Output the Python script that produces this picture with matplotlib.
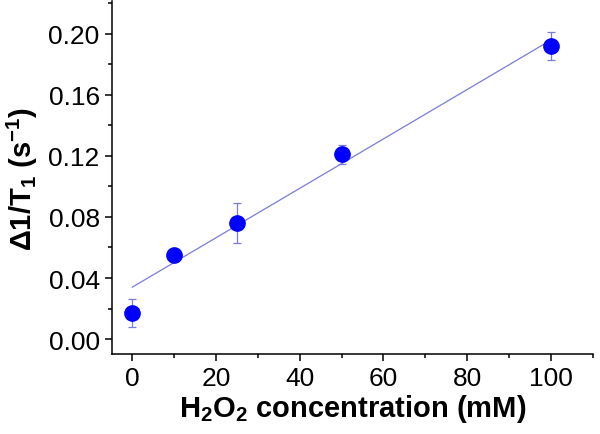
import numpy as np
import matplotlib
matplotlib.use("Agg")
import matplotlib.pyplot as plt
from matplotlib.ticker import MultipleLocator, FormatStrFormatter

# --- data
conc = [0, 10, 25, 50, 100]
dr1 = [0.017, 0.055, 0.076, 0.121, 0.192]
err = [0.009, 0.003, 0.013, 0.006, 0.009]
fit_intercept = 0.034
fit_slope = 0.00162
fit_range = [0, 100]

plt.rcParams['font.family'] = ['Liberation Sans', 'DejaVu Sans']
plt.rcParams['mathtext.fontset'] = 'custom'
plt.rcParams['mathtext.rm'] = 'Liberation Sans'
plt.rcParams['mathtext.bf'] = 'Liberation Sans:bold'

fig = plt.figure(figsize=(6, 4.35), dpi=100)
ax = fig.add_axes([0.187, 0.184, 0.801, 0.811])

xf = np.array(fit_range)
ax.plot(xf, fit_intercept + fit_slope * xf, color='#7b7bdc', lw=0.9, zorder=1)
ax.errorbar(conc, dr1, yerr=err, fmt='none', ecolor='#7b7bdc', elinewidth=0.9,
            capsize=3, capthick=0.9, zorder=2)
ax.plot(conc, dr1, 'o', color='#0000ff', ms=11, zorder=3)

ax.set_xlim(-4.8, 110)
ax.set_ylim(-0.0098, 0.2215)
ax.xaxis.set_major_locator(MultipleLocator(20))
ax.xaxis.set_minor_locator(MultipleLocator(10))
ax.yaxis.set_major_locator(MultipleLocator(0.04))
ax.yaxis.set_minor_locator(MultipleLocator(0.02))
ax.yaxis.set_major_formatter(FormatStrFormatter('%.2f'))

for s in ['top', 'right']:
    ax.spines[s].set_visible(False)
for s in ['left', 'bottom']:
    ax.spines[s].set_linewidth(1.1)
ax.tick_params(which='major', direction='out', length=5, width=1.1, labelsize=19, pad=4)
ax.tick_params(which='minor', direction='out', length=3, width=1.1)

ax.set_xlabel(r'H$_\mathbf{2}$O$_\mathbf{2}$ concentration (mM)', fontsize=21,
              fontweight='bold', labelpad=1)
ax.set_ylabel(r'$\mathbf{\Delta}$1/T$_\mathbf{1}$ (s$^\mathbf{-1}$)', fontsize=21,
              fontweight='bold', labelpad=6)

fig.savefig('out.png', dpi=100)
